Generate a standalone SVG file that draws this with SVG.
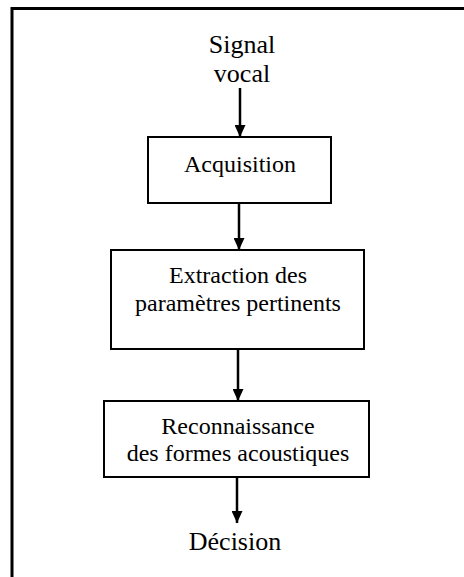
<svg xmlns="http://www.w3.org/2000/svg" width="464" height="577" viewBox="0 0 464 577">
<defs>
<style>
.frame{fill:none;stroke:#000;stroke-width:3}
.box{fill:#fff;stroke:#000;stroke-width:2}
.edge{stroke:#000;stroke-width:2.5;fill:none}
.t{font-family:"Liberation Serif","Times New Roman",serif;font-size:24px;fill:#000;text-anchor:middle}
.tl{font-family:"Liberation Serif","Times New Roman",serif;font-size:26px;fill:#000;text-anchor:middle}
</style>
<marker id="ah" viewBox="0 0 12 11" refX="12" refY="5.5" markerWidth="12" markerHeight="11" markerUnits="userSpaceOnUse" orient="auto">
<path d="M0,0 L12,5.5 L0,11 z" fill="#000"/>
</marker>
</defs>
<rect width="464" height="577" fill="#fff"/>
<path class="frame" d="M12,577 L12,8.5 L464,8.5"/>
<g id="signal"><text class="tl" x="242" y="53">Signal</text><text class="tl" x="242" y="82">vocal</text></g>
<g id="acquisition"><rect class="box" x="148" y="137" width="183" height="66"/><text class="t" x="240" y="172">Acquisition</text></g>
<g id="extraction"><rect class="box" x="111" y="250" width="253" height="99"/><text class="t" x="238" y="283">Extraction des</text><text class="t" x="238" y="311">paramètres pertinents</text></g>
<g id="reconnaissance"><rect class="box" x="104" y="401" width="265" height="76"/><text class="t" x="238" y="434">Reconnaissance</text><text class="t" x="238" y="461">des formes acoustiques</text></g>
<g id="decision"><text class="tl" x="235" y="550">Décision</text></g>
<g id="connectors">
<line class="edge" x1="240" y1="88" x2="240" y2="137" marker-end="url(#ah)"/>
<line class="edge" x1="239" y1="203" x2="239" y2="250" marker-end="url(#ah)"/>
<line class="edge" x1="238" y1="349" x2="238" y2="401" marker-end="url(#ah)"/>
<line class="edge" x1="237" y1="477" x2="237" y2="523" marker-end="url(#ah)"/>
</g>
</svg>
